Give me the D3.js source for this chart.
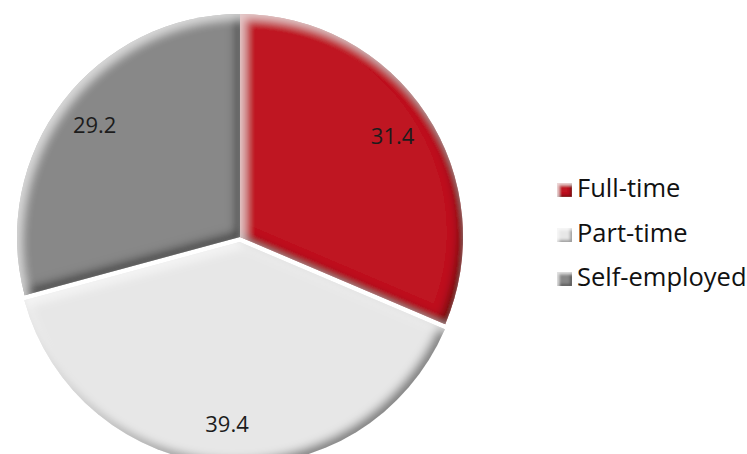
<!DOCTYPE html>
<html>
<head>
<meta charset="utf-8">
<script src="https://cdn.jsdelivr.net/npm/d3@7"></script>
<style>
  html, body { margin: 0; padding: 0; background: #fff; }
  svg { display: block; font-family: "Open Sans", "Noto Sans", sans-serif; }
</style>
</head>
<body>
<svg id="chart" width="747" height="454"></svg>
<script>
// Employment type shares (%)
const categories = ["Full-time", "Part-time", "Self-employed"];
const values = [31.4, 39.4, 29.2];
const colors = ["#BF1521", "#E7E7E7", "#888888"];
const exploded = [false, true, false];

const W = 747, H = 454;
const cx = 240, cy = 237, R = 223;
const explodeBy = 5;
const labelR = 183;

const svg = d3.select("#chart");
svg.append("rect").attr("width", W).attr("height", H).attr("fill", "#fff");

// Soft bevel: dark inner edge on lower-right faces, light inner edge on upper-left faces
const defs = svg.append("defs");
function bevel(id, blur, off, shadowOp, hiOp) {
  const f = defs.append("filter").attr("id", id)
    .attr("x", "-10%").attr("y", "-10%").attr("width", "120%").attr("height", "120%");
  f.append("feGaussianBlur").attr("in", "SourceAlpha").attr("stdDeviation", blur).attr("result", "b");
  f.append("feOffset").attr("in", "b").attr("dx", -off).attr("dy", -off).attr("result", "o1");
  f.append("feComposite").attr("in", "SourceAlpha").attr("in2", "o1").attr("operator", "out").attr("result", "sm");
  f.append("feFlood").attr("flood-color", "#000").attr("flood-opacity", shadowOp);
  f.append("feComposite").attr("in2", "sm").attr("operator", "in").attr("result", "shadow");
  f.append("feOffset").attr("in", "b").attr("dx", off).attr("dy", off).attr("result", "o2");
  f.append("feComposite").attr("in", "SourceAlpha").attr("in2", "o2").attr("operator", "out").attr("result", "hm");
  f.append("feFlood").attr("flood-color", "#fff").attr("flood-opacity", hiOp);
  f.append("feComposite").attr("in2", "hm").attr("operator", "in").attr("result", "hi");
  const m = f.append("feMerge");
  m.append("feMergeNode").attr("in", "SourceGraphic");
  m.append("feMergeNode").attr("in", "shadow");
  m.append("feMergeNode").attr("in", "hi");
}
bevel("bevel", 5, 5, 0.75, 0.6);
bevel("bevelSmall", 1.5, 2, 0.6, 0.7);

const pie = d3.pie().sort(null).value(d => d)(values);
const arc = d3.arc().innerRadius(0).outerRadius(R);
const labelArc = d3.arc().innerRadius(labelR).outerRadius(labelR);

function offset(d, i) {
  if (!exploded[i]) return [0, 0];
  const mid = (d.startAngle + d.endAngle) / 2;
  return [Math.sin(mid) * explodeBy, -Math.cos(mid) * explodeBy];
}

const slices = svg.append("g").attr("transform", `translate(${cx},${cy})`)
  .selectAll("g.slice").data(pie).join("g")
  .attr("class", "slice")
  .attr("transform", (d, i) => { const o = offset(d, i); return `translate(${o[0]},${o[1]})`; });

slices.append("path")
  .attr("d", arc)
  .attr("fill", (d, i) => colors[i])
  .attr("filter", "url(#bevel)");

slices.append("text")
  .attr("transform", d => `translate(${labelArc.centroid(d)})`)
  .attr("text-anchor", "middle")
  .attr("dy", "0.35em")
  .attr("font-size", 22)
  .attr("fill", "#1c1c1c")
  .text(d => d.data.toFixed(1));

// Legend
const legend = svg.append("g").attr("transform", "translate(557,0)");
const rowBase = [197, 242, 286];
const item = legend.selectAll("g").data(categories).join("g")
  .attr("transform", (d, i) => `translate(0,${rowBase[i]})`);
item.append("rect")
  .attr("x", 0).attr("y", -14).attr("width", 15).attr("height", 14)
  .attr("fill", (d, i) => colors[i])
  .attr("filter", "url(#bevelSmall)");
item.append("text")
  .attr("x", 20).attr("y", 0)
  .attr("font-size", 25.5)
  .attr("fill", "#111")
  .text(d => d);
</script>
</body>
</html>
